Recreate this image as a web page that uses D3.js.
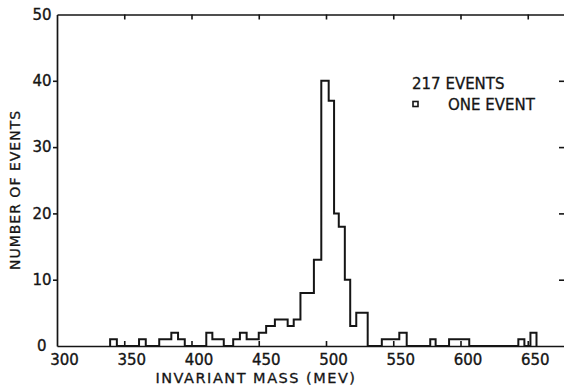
<!DOCTYPE html>
<html>
<head>
<meta charset="utf-8">
<script src="https://cdn.jsdelivr.net/npm/d3@7"></script>
<style>
  body { margin: 0; background: #fff; }
  svg text { font-family: "DejaVu Sans", sans-serif; fill: #151515; }
</style>
</head>
<body>
<div id="plot"></div>
<script>
// chart data (MeV bin edges, event counts)
const binEdges = [339.5, 344.5, 361, 366, 376, 385, 390, 395, 411, 415.5, 424, 431, 436, 441,
  450, 455.5, 462, 471.5, 476, 481, 491, 496.5, 502, 506, 509.5, 514, 518, 522.5, 531,
  541.5, 554.5, 560, 577.5, 581.5, 591.5, 606.5, 643, 647.5, 652, 656.5];
const binCounts = [1, 0, 1, 0, 1, 2, 1, 0, 2, 1, 0, 1, 2, 1,
  2, 3, 4, 3, 4, 8, 13, 40, 37, 20, 18, 10, 3, 5,
  0, 1, 2, 0, 1, 0, 1, 0, 1, 0, 2];
const xTicks = [300, 350, 400, 450, 500, 550, 600, 650];
const yTicks = [0, 10, 20, 30, 40, 50];
const xTitle = "INVARIANT MASS (MEV)";
const yTitle = "NUMBER OF EVENTS";
const legendLines = ["217 EVENTS", "ONE EVENT"];

// set the dimensions of the graph
const width = 564;
const height = 390;
const plot = {left: 57, right: 565, top: 14.5, bottom: 346};

const svg = d3.select("div#plot")
  .append("svg")
    .attr("width", width)
    .attr("height", height);

svg.append("rect")
    .attr("width", width)
    .attr("height", height)
    .attr("fill", "#fff");

const xScale = d3.scaleLinear()
    .domain([300, 300 + (plot.right - plot.left) / 1.345])
    .range([plot.left, plot.right]);

const yScale = d3.scaleLinear()
    .domain([0, 50])
    .range([plot.bottom, plot.top]);

function styleAxis(g) {
  g.select(".domain").attr("stroke", "#151515").attr("stroke-width", 1.7);
  g.selectAll(".tick line").attr("stroke", "#151515").attr("stroke-width", 1.6);
  g.selectAll(".tick text")
      .attr("font-size", 15)
      .attr("fill", "#151515")
      .attr("stroke", "#151515")
      .attr("stroke-width", 0.35);
}

// bottom axis, ticks pointing in
svg.append("g")
    .attr("transform", `translate(0, ${plot.bottom})`)
    .call(d3.axisBottom(xScale).tickValues(xTicks).tickSizeInner(-5).tickSizeOuter(0).tickPadding(8))
    .call(styleAxis)
    .call(g => g.selectAll(".tick text").attr("dx", 7))
    .call(g => g.selectAll(".tick line").filter(d => d === 300).remove());

// top axis
svg.append("g")
    .attr("transform", `translate(0, ${plot.top})`)
    .call(d3.axisTop(xScale).tickValues(xTicks.slice(1)).tickSizeInner(-5).tickSizeOuter(0).tickFormat(""))
    .call(styleAxis);

// left axis
svg.append("g")
    .attr("transform", `translate(${plot.left}, 0)`)
    .call(d3.axisLeft(yScale).tickValues(yTicks).tickSizeInner(4).tickSizeOuter(0).tickPadding(1.5))
    .call(styleAxis)
    .call(g => g.selectAll(".tick").filter(d => d === 0).select("text").attr("dx", -5))
    .call(g => g.selectAll(".tick").filter(d => d === 0 || d === 50).select("line").remove());

// right axis (its line is cut off by the scan edge)
svg.append("g")
    .attr("transform", `translate(${plot.right}, 0)`)
    .call(d3.axisRight(yScale).tickValues(yTicks.slice(1, -1)).tickSizeInner(-6).tickSizeOuter(0).tickFormat(""))
    .call(styleAxis);

// histogram outline
const steps = [[binEdges[0], 0]].concat(binEdges.map((e, i) => [e, i < binCounts.length ? binCounts[i] : 0]));

const histLine = d3.line()
    .x(d => xScale(d[0]))
    .y(d => yScale(d[1]))
    .curve(d3.curveStepAfter);

svg.append("path")
    .datum(steps)
    .attr("d", histLine)
    .attr("fill", "none")
    .attr("stroke", "#151515")
    .attr("stroke-width", 2)
    .attr("stroke-linejoin", "miter");

// axis titles
svg.append("text")
    .attr("x", 256)
    .attr("y", 383)
    .attr("text-anchor", "middle")
    .attr("font-size", 14.5)
    .attr("letter-spacing", 1.5)
    .attr("stroke", "#151515")
    .attr("stroke-width", 0.3)
    .text(xTitle);

svg.append("text")
    .attr("transform", "translate(20, 190) rotate(-90)")
    .attr("text-anchor", "middle")
    .attr("font-size", 14)
    .attr("letter-spacing", 1)
    .attr("stroke", "#151515")
    .attr("stroke-width", 0.3)
    .text(yTitle);

// legend
svg.append("text")
    .attr("x", 412)
    .attr("y", 89)
    .attr("font-size", 15)
    .attr("stroke", "#151515")
    .attr("stroke-width", 0.3)
    .text(legendLines[0]);

svg.append("rect")
    .attr("x", 413)
    .attr("y", 101.5)
    .attr("width", 5)
    .attr("height", 5)
    .attr("fill", "none")
    .attr("stroke", "#151515")
    .attr("stroke-width", 1.6);

svg.append("text")
    .attr("x", 448)
    .attr("y", 110)
    .attr("font-size", 15)
    .attr("stroke", "#151515")
    .attr("stroke-width", 0.3)
    .text(legendLines[1]);
</script>
</body>
</html>
